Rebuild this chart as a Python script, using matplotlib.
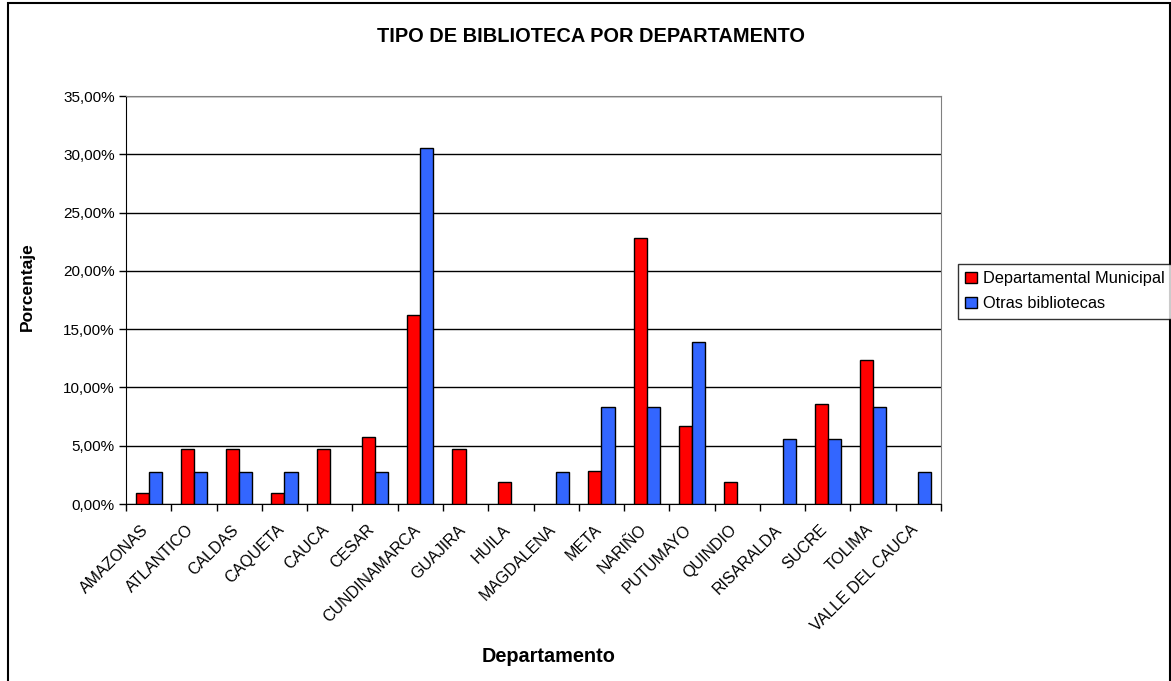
import numpy as np
import matplotlib.pyplot as plt
import matplotlib.transforms as mtransforms
from matplotlib.patches import Rectangle
from matplotlib.ticker import FuncFormatter

plt.rcParams['font.family'] = ['Liberation Sans', 'DejaVu Sans']

# ============================ #
# Data                         #
# ============================ #
departamentos = ["AMAZONAS", "ATLANTICO", "CALDAS", "CAQUETA", "CAUCA", "CESAR",
                 "CUNDINAMARCA", "GUAJIRA", "HUILA", "MAGDALENA", "META", "NARIÑO",
                 "PUTUMAYO", "QUINDIO", "RISARALDA", "SUCRE", "TOLIMA", "VALLE DEL CAUCA"]
dep_municipal = [0.95, 4.76, 4.76, 0.95, 4.76, 5.71, 16.19, 4.76, 1.90, 0.0, 2.86, 22.86,
                 6.67, 1.90, 0.0, 8.57, 12.38, 0.0]
otras = [2.78, 2.78, 2.78, 2.78, 0.0, 2.78, 30.56, 0.0, 0.0, 2.78, 8.33, 8.33,
         13.89, 0.0, 5.56, 5.56, 8.33, 2.78]

# ============================ #
# Plot                         #
# ============================ #
W, H = 1171, 681
fig = plt.figure(figsize=(W / 100, H / 100), dpi=100)
ax = fig.add_axes([126 / W, 1 - 504 / H, (941 - 126) / W, (504 - 96) / H])

x = np.arange(len(departamentos))
bw = 0.29
b1 = ax.bar(x - bw / 2, dep_municipal, bw, color="#FF0000", edgecolor="black",
            linewidth=1, label="Departamental Municipal", zorder=3)
b2 = ax.bar(x + bw / 2, otras, bw, color="#3366FF", edgecolor="black",
            linewidth=1, label="Otras bibliotecas", zorder=3)

# empty bars leave no mark
for bars, vals in ((b1, dep_municipal), (b2, otras)):
    for r, v in zip(bars, vals):
        if v == 0:
            r.set_visible(False)

ax.set_xlim(-0.5, len(departamentos) - 0.5)
ax.set_ylim(0, 35)
ax.set_yticks(np.arange(0, 36, 5))
ax.yaxis.set_major_formatter(FuncFormatter(lambda v, p: f"{v:.2f}%".replace(".", ",")))
ax.grid(axis="y", color="black", linewidth=1, zorder=0)

# ticks at category boundaries, labels at centres
ax.set_xticks(np.arange(-0.5, len(departamentos) + 0.5, 1))
ax.set_xticklabels([])
ax.set_xticks(x, minor=True)
ax.set_xticklabels(departamentos, minor=True, rotation=45, ha="right", va="top",
                   rotation_mode="anchor", fontsize=11.5)
ax.tick_params(axis="x", which="minor", length=0, pad=13)
ax.tick_params(axis="x", which="major", length=5, width=1, color="black", direction="out")
ax.tick_params(axis="y", length=5, width=1, labelsize=11, pad=3)

# nudge rotated labels a little to the left (after tick_params, which resets transforms)
shift = mtransforms.ScaledTranslation(-8 / 100, 0, fig.dpi_scale_trans)
for lbl in ax.get_xticklabels(minor=True):
    lbl.set_transform(lbl.get_transform() + shift)

for s in ["top", "right"]:
    ax.spines[s].set_color("#808080")
ax.spines["left"].set_color("black")
ax.spines["bottom"].set_color("black")

fig.text(591 / W, 1 - 37 / H, "TIPO DE BIBLIOTECA POR DEPARTAMENTO", ha="center",
         va="center", fontsize=14.4, fontweight="bold")
fig.text(27 / W, 1 - 287 / H, "Porcentaje", rotation=90, ha="center", va="center",
         fontsize=12.5, fontweight="bold")
fig.text(549 / W, 1 - 657 / H, "Departamento", ha="center", va="center",
         fontsize=14.3, fontweight="bold")

leg = fig.legend(handles=[b1, b2], loc="upper left",
                 bbox_to_anchor=(958 / W, 1 - 264 / H), fontsize=11.8,
                 frameon=True, fancybox=False, edgecolor="black",
                 handlelength=0.7, handleheight=0.7, handletextpad=0.35,
                 borderpad=0.45, labelspacing=0.6, borderaxespad=0)
leg.get_frame().set_linewidth(1)

# outer chart border
fig.patches.append(Rectangle((8 / W, -0.05), (1170 - 8) / W, 1 - 3 / H + 0.05,
                             transform=fig.transFigure, fill=False,
                             edgecolor="black", linewidth=1.5))

fig.savefig("out.png", dpi=100)
